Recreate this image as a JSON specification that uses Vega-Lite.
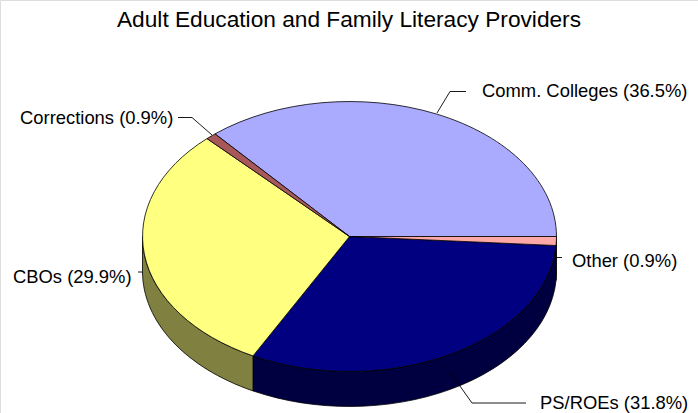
{"$schema":"https://vega.github.io/schema/vega-lite/v6.json","width":698,"height":413,"padding":0,"autosize":"none","background":"white",
"title":{"text":"Adult Education and Family Literacy Providers","font":"Liberation Sans","fontSize":22.7,"fontWeight":"normal","color":"black","anchor":"middle","frame":"group","offset":-50,"baseline":"alphabetic"},
"datasets":{
"shares":[{"provider":"Comm. Colleges","share":36.5},{"provider":"PS/ROEs","share":31.8},{"provider":"CBOs","share":29.9},{"provider":"Corrections","share":0.9},{"provider":"Other","share":0.9}],
"leaders":[
{"provider":"Comm. Colleges","step":1,"px":437,"py":113},{"provider":"Comm. Colleges","step":2,"px":450,"py":91.5},{"provider":"Comm. Colleges","step":3,"px":466,"py":91.5},
{"provider":"Corrections","step":1,"px":178,"py":117.5},{"provider":"Corrections","step":2,"px":192,"py":117.5},{"provider":"Corrections","step":3,"px":212,"py":135},
{"provider":"Other","step":1,"px":557,"py":257.5},{"provider":"Other","step":2,"px":562,"py":257.5},
{"provider":"PS/ROEs","step":1,"px":450,"py":372},{"provider":"PS/ROEs","step":2,"px":472,"py":403},{"provider":"PS/ROEs","step":3,"px":526,"py":403},
{"provider":"CBOs","step":1,"px":138,"py":272},{"provider":"CBOs","step":2,"px":143,"py":272}],
"labels":[
{"label":"Comm. Colleges (36.5%)","px":482,"py":91.3},
{"label":"Corrections (0.9%)","px":20,"py":117.8},
{"label":"Other (0.9%)","px":572,"py":261.3},
{"label":"PS/ROEs (31.8%)","px":540,"py":403.2},
{"label":"CBOs (29.9%)","px":13,"py":277.3}]},
"resolve":{"scale":{"shape":"independent","fill":"independent"}},
"layer":[
{"data":{"name":"shares"},"transform":[{"filter":"datum.provider==='CBOs'||datum.provider==='PS/ROEs'||datum.provider==='Other'"}],
"mark":{"type":"point","filled":true,"opacity":1,"size":4,"stroke":"black","strokeWidth":0.8,"strokeOpacity":1},
"encoding":{"x":{"datum":349.5,"type":"quantitative","scale":{"domain":[0,698],"nice":false,"zero":false},"axis":null},"y":{"datum":236.5,"type":"quantitative","scale":{"domain":[413,0],"nice":false,"zero":false},"axis":null},
"shape":{"field":"provider","type":"nominal","legend":null,"scale":{"domain":["CBOs","PS/ROEs","Other"],"range":["M-207 0L-207 35A207 135 0 0 0 -96.5 154.4L-96.5 119.4A207 135 0 0 1 -207 0Z","M-96.5 119.4L-96.5 154.4A207 135 0 0 0 206.5 44L206.5 9A207 135 0 0 1 -96.5 119.4Z","M206.5 9L206.5 44A207 135 0 0 0 207 35L207 0A207 135 0 0 1 206.5 9Z"]}},
"fill":{"field":"provider","type":"nominal","legend":null,"scale":{"domain":["CBOs","PS/ROEs","Other"],"range":["#808040","#000040","#805454"]}}}},
{"data":{"name":"shares"},
"mark":{"type":"point","filled":true,"opacity":1,"size":4,"stroke":"black","strokeWidth":0.8,"strokeOpacity":1},
"encoding":{"x":{"datum":349.5,"type":"quantitative"},"y":{"datum":236.5,"type":"quantitative"},
"shape":{"field":"provider","type":"nominal","legend":null,"scale":{"domain":["Comm. Colleges","Corrections","CBOs","PS/ROEs","Other"],"range":["M0 0L207 0A207 135 0 0 0 -134.5 -102.6Z","M0 0L-134.5 -102.6A207 135 0 0 0 -142.5 -97.9Z","M0 0L-142.5 -97.9A207 135 0 0 0 -96.5 119.4Z","M0 0L-96.5 119.4A207 135 0 0 0 206.5 9Z","M0 0L206.5 9A207 135 0 0 0 207 0Z"]}},
"fill":{"field":"provider","type":"nominal","legend":null,"scale":{"domain":["Comm. Colleges","Corrections","CBOs","PS/ROEs","Other"],"range":["#AAAAFF","#A85858","#FFFF80","#000080","#FFA8A8"]}}}},
{"data":{"name":"leaders"},"mark":{"type":"line","color":"black","strokeWidth":0.9},
"encoding":{"x":{"field":"px","type":"quantitative"},"y":{"field":"py","type":"quantitative"},"detail":{"field":"provider"},"order":{"field":"step","type":"ordinal"}}},
{"data":{"name":"labels"},"mark":{"type":"text","align":"left","baseline":"middle","font":"Liberation Sans","fontSize":18.4,"color":"black"},
"encoding":{"x":{"field":"px","type":"quantitative"},"y":{"field":"py","type":"quantitative"},"text":{"field":"label"}}}
]}
